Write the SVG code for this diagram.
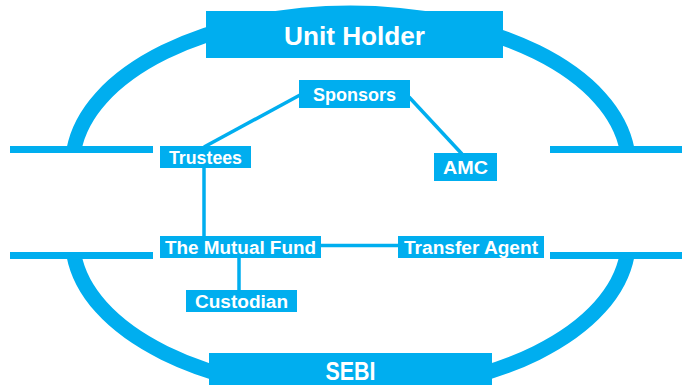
<svg xmlns="http://www.w3.org/2000/svg" width="682" height="385" viewBox="0 0 682 385">
<style>
.box{fill:#00AEEF}
.arc{fill:none;stroke:#00AEEF;stroke-width:15}
.bar{fill:#00AEEF}
.con{stroke:#00AEEF;stroke-width:3.5;fill:none}
.t{fill:#ffffff;font-family:"Liberation Sans",Arial,sans-serif;font-weight:bold;text-anchor:middle}
.big{font-size:26px}
.sm{font-size:18px}
</style>
<rect width="682" height="385" fill="#ffffff"/>
<g id="frame">
<path class="arc" d="M74,149.5 A278,152.4 0 0 1 627,149.5"/>
<path class="arc" d="M74,255.5 A278,152.4 0 0 0 627,255.5"/>
<rect class="bar" x="10" y="146" width="143" height="7"/>
<rect class="bar" x="550" y="146" width="132" height="7"/>
<rect class="bar" x="10" y="252" width="143" height="7"/>
<rect class="bar" x="550" y="252" width="132" height="7"/>
</g>
<g id="connectors">
<line class="con" x1="300" y1="95" x2="204" y2="147"/>
<line class="con" x1="409" y1="97" x2="462" y2="154"/>
<line class="con" x1="204" y1="167" x2="204" y2="237"/>
<line class="con" x1="239" y1="257" x2="239" y2="291"/>
<line class="con" x1="320" y1="245.5" x2="399" y2="245.5"/>
</g>
<g id="unit-holder">
<rect class="box" x="206" y="11" width="297" height="47"/>
<text class="t big" x="354.5" y="45" textLength="141" lengthAdjust="spacingAndGlyphs">Unit Holder</text>
</g>
<g id="sebi">
<rect class="box" x="209" y="353" width="283" height="32"/>
<text class="t big" x="350.5" y="380" textLength="50" lengthAdjust="spacingAndGlyphs">SEBI</text>
</g>
<g id="sponsors">
<rect class="box" x="299" y="80" width="111" height="28"/>
<text class="t sm" x="354.5" y="101" textLength="83" lengthAdjust="spacingAndGlyphs">Sponsors</text>
</g>
<g id="trustees">
<rect class="box" x="160" y="146" width="91" height="22"/>
<text class="t sm" x="205.5" y="164" textLength="73" lengthAdjust="spacingAndGlyphs">Trustees</text>
</g>
<g id="amc">
<rect class="box" x="434" y="153" width="63" height="28"/>
<text class="t sm" x="465.5" y="174" textLength="45" lengthAdjust="spacingAndGlyphs">AMC</text>
</g>
<g id="mutual-fund">
<rect class="box" x="160" y="236" width="161" height="22"/>
<text class="t sm" x="240.5" y="253.5" textLength="151" lengthAdjust="spacingAndGlyphs">The Mutual Fund</text>
</g>
<g id="custodian">
<rect class="box" x="186" y="290" width="111" height="22"/>
<text class="t sm" x="241.5" y="307.5" textLength="93" lengthAdjust="spacingAndGlyphs">Custodian</text>
</g>
<g id="transfer-agent">
<rect class="box" x="398" y="236" width="146" height="22"/>
<text class="t sm" x="471" y="254" textLength="134" lengthAdjust="spacingAndGlyphs">Transfer Agent</text>
</g>
</svg>
